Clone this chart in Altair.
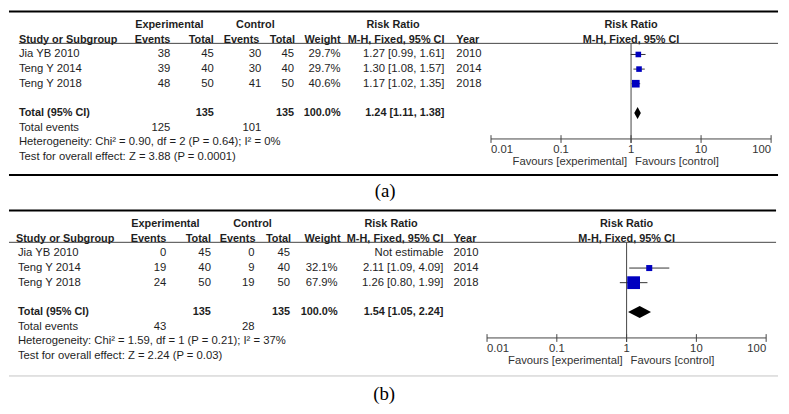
import altair as alt
import pandas as pd

# ------------------------------------------------------------------ data
studies = ["Jia YB 2010", "Teng Y 2014", "Teng Y 2018"]
years = [2010, 2014, 2018]

a_exp_events = [38, 39, 48]
a_exp_total = [45, 40, 50]
a_ctl_events = [30, 30, 41]
a_ctl_total = [45, 40, 50]
a_weight = [29.7, 29.7, 40.6]
a_rr = [1.27, 1.30, 1.17]
a_lo = [0.99, 1.08, 1.02]
a_hi = [1.61, 1.57, 1.35]
a_total_n = [135, 135]
a_total_events = [125, 101]
a_pooled = [1.24, 1.11, 1.38]
a_het = "Heterogeneity: Chi\u00b2 = 0.90, df = 2 (P = 0.64); I\u00b2 = 0%"
a_test = "Test for overall effect: Z = 3.88 (P = 0.0001)"

b_exp_events = [0, 19, 24]
b_exp_total = [45, 40, 50]
b_ctl_events = [0, 9, 19]
b_ctl_total = [45, 40, 50]
b_weight = [None, 32.1, 67.9]
b_rr = [None, 2.11, 1.26]
b_lo = [None, 1.09, 0.80]
b_hi = [None, 4.09, 1.99]
b_total_n = [135, 135]
b_total_events = [43, 28]
b_pooled = [1.54, 1.05, 2.24]
b_het = "Heterogeneity: Chi\u00b2 = 1.59, df = 1 (P = 0.21); I\u00b2 = 37%"
b_test = "Test for overall effect: Z = 2.24 (P = 0.03)"

axis_ticks = [0.01, 0.1, 1, 10, 100]
axis_labels = ["0.01", "0.1", "1", "10", "100"]

# ------------------------------------------------------------------ style
FONT = "Liberation Sans"
FS = 11.4      # regular text
FSB = 11       # bold text
TEXT = "#1e1e1e"
GREY = "#333333"
BLUE = "#0000C0"
W = 780

# row units: study rows are 0,1,2 ; total 4 ; total events 5 ; het 6 ; test 7
R = dict(top=-2.94, h1=-2, h2=-1, under=-0.76, axis=5.78, tick0=5.52, tick1=6.05,
         ticklab=6.57, fav=7.33, total=4, tev=5, het=6, test=7)

LAYOUT_A = dict(
    height=201, ydomain=[-3.04, 10.57], xrange=[487, 770],
    study=10, hstudy=10, ee=163, et=207, ce=255, ct=288, w=335, ci=440, year=452,
    h_ee=163, h_et=207, h_ce=253, h_ct=289, h_w=335, h_ci=440, h_year=452,
    exp=162, ctl=249, rr=388,
    top=[0, 777], under=[10, 777], bottom=[0, 777], bottom_color="#000000", bottom_w=2,
    bottom_row=8.25, caption=380, caption_row=9.37,
)
LAYOUT_B = dict(
    height=195, ydomain=[-3.04, 10.16], xrange=[483, 765],
    study=9, hstudy=7, ee=159, et=204, ce=248, ct=284, w=332, ci=439, year=449,
    h_ee=159, h_et=204, h_ce=249, h_ct=285, h_w=335, h_ci=439, h_year=449,
    exp=158, ctl=246, rr=386,
    top=[0, 775], under=[0, 775], bottom=[0, 777], bottom_color="#c4c4c4", bottom_w=1,
    bottom_row=8.38, caption=379, caption_row=9.6,
)


def fmt_ci(r, l, h):
    return "Not estimable" if r is None else f"{r:.2f} [{l:.2f}, {h:.2f}]"


def panel(ee, et, ce, ct, wt, rr, lo, hi, tot_n, tot_ev, pooled, het, test, label, L):
    H = L["height"]
    yscale = alt.Scale(domain=L["ydomain"], range=[0, H], nice=False, zero=False)
    xscale = alt.Scale(type="log", domain=[0.01, 100], range=L["xrange"], nice=False)

    def Y(f="row"):
        return alt.Y(f"{f}:Q", scale=yscale, axis=None)

    def X(f):
        return alt.X(f"{f}:Q", scale=xscale, axis=None)

    def txt(df, field, x, align, bold=False, color=TEXT, size=None, font=FONT):
        if size is None:
            size = FSB if bold else FS
        return alt.Chart(df).mark_text(
            align=align, baseline="middle", font=font, fontSize=size,
            fontWeight="bold" if bold else "normal", color=color,
        ).encode(x=alt.value(x), y=Y(), text=alt.Text(f"{field}:N"))

    def one(row, t):
        return pd.DataFrame({"row": [row], "t": [t]})

    def hline(row, x0, x1, color, sw):
        return alt.Chart(pd.DataFrame({"row": [row]})).mark_rule(
            color=color, strokeWidth=sw).encode(x=alt.value(x0), x2=alt.value(x1), y=Y())

    rows = pd.DataFrame({
        "row": [0, 1, 2],
        "study": studies,
        "ee": [str(v) for v in ee], "et": [str(v) for v in et],
        "ce": [str(v) for v in ce], "ct": [str(v) for v in ct],
        "w": ["" if v is None else f"{v:.1f}%" for v in wt],
        "ci": [fmt_ci(r, l, h) for r, l, h in zip(rr, lo, hi)],
        "year": [str(y) for y in years],
    })
    forest = pd.DataFrame([
        {"row": i, "rr": r, "lo": l, "hi": h, "weight": w}
        for i, (r, l, h, w) in enumerate(zip(rr, lo, hi, wt)) if r is not None
    ])

    layers = []
    # lines
    layers.append(hline(R["top"], *L["top"], "#000000", 2))
    layers.append(hline(R["under"], *L["under"], "#444444", 1))
    layers.append(hline(L["bottom_row"], *L["bottom"], L["bottom_color"], L["bottom_w"]))

    # header row 1
    layers.append(txt(one(R["h1"], "Experimental"), "t", L["exp"], "center", True))
    layers.append(txt(one(R["h1"], "Control"), "t", L["ctl"], "center", True))
    layers.append(txt(one(R["h1"], "Risk Ratio"), "t", L["rr"], "center", True))
    # header row 2
    for key, t, al in [("hstudy", "Study or Subgroup", "left"), ("h_ee", "Events", "right"),
                       ("h_et", "Total", "right"), ("h_ce", "Events", "right"),
                       ("h_ct", "Total", "right"), ("h_w", "Weight", "right"),
                       ("h_ci", "M-H, Fixed, 95% CI", "right"), ("h_year", "Year", "left")]:
        layers.append(txt(one(R["h2"], t), "t", L[key], al, True))

    # forest headers centred on the line of no effect
    fh = pd.DataFrame({"v": [1, 1], "row": [R["h1"], R["h2"]],
                       "t": ["Risk Ratio", "M-H, Fixed, 95% CI"]})
    layers.append(alt.Chart(fh).mark_text(
        align="center", baseline="middle", font=FONT, fontSize=FSB, fontWeight="bold", color=TEXT
    ).encode(x=X("v"), y=Y(), text="t:N"))

    # study rows
    for key, al in [("study", "left"), ("ee", "right"), ("et", "right"), ("ce", "right"),
                    ("ct", "right"), ("w", "right"), ("ci", "right"), ("year", "left")]:
        layers.append(txt(rows, key, L[key], al))

    # total row
    layers.append(txt(one(R["total"], "Total (95% CI)"), "t", L["study"], "left", True))
    layers.append(txt(one(R["total"], str(tot_n[0])), "t", L["et"], "right", True))
    layers.append(txt(one(R["total"], str(tot_n[1])), "t", L["ct"], "right", True))
    layers.append(txt(one(R["total"], "100.0%"), "t", L["w"], "right", True))
    layers.append(txt(one(R["total"], fmt_ci(*pooled)), "t", L["ci"], "right", True))
    # total events
    layers.append(txt(one(R["tev"], "Total events"), "t", L["study"], "left"))
    layers.append(txt(one(R["tev"], str(tot_ev[0])), "t", L["ee"], "right"))
    layers.append(txt(one(R["tev"], str(tot_ev[1])), "t", L["ce"], "right"))
    layers.append(txt(one(R["het"], het), "t", L["study"], "left"))
    layers.append(txt(one(R["test"], test), "t", L["study"], "left"))

    # line of no effect
    layers.append(alt.Chart(pd.DataFrame({"v": [1], "y0": [R["under"]], "y1": [R["tick1"]]}))
                  .mark_rule(color="#444444", strokeWidth=1)
                  .encode(x=X("v"), y=Y("y0"), y2="y1:Q"))
    # axis line + ticks
    layers.append(alt.Chart(pd.DataFrame({"a": [axis_ticks[0]], "b": [axis_ticks[-1]], "row": [R["axis"]]}))
                  .mark_rule(color="#444444", strokeWidth=1)
                  .encode(x=X("a"), x2="b:Q", y=Y()))
    ticks = pd.DataFrame({"v": axis_ticks, "lab": axis_labels,
                          "y0": R["tick0"], "y1": R["tick1"], "row": R["ticklab"],
                          "i": list(range(len(axis_ticks)))})
    layers.append(alt.Chart(ticks).mark_rule(color="#444444", strokeWidth=1)
                  .encode(x=X("v"), y=Y("y0"), y2="y1:Q"))
    n = len(axis_ticks) - 1
    for cond, al in [("datum.i == 0", "left"), (f"datum.i > 0 && datum.i < {n}", "center"),
                     (f"datum.i == {n}", "right")]:
        layers.append(alt.Chart(ticks).transform_filter(cond).mark_text(
            align=al, baseline="middle", font=FONT, fontSize=FS, color=GREY
        ).encode(x=X("v"), y=Y(), text="lab:N"))
    # favours
    layers.append(alt.Chart(pd.DataFrame({"v": [1], "row": [R["fav"]], "t": ["Favours [experimental]"]}))
                  .mark_text(align="right", dx=-4, baseline="middle", font=FONT, fontSize=FS, color=GREY)
                  .encode(x=X("v"), y=Y(), text="t:N"))
    layers.append(alt.Chart(pd.DataFrame({"v": [1], "row": [R["fav"]], "t": ["Favours [control]"]}))
                  .mark_text(align="left", dx=4, baseline="middle", font=FONT, fontSize=FS, color=GREY)
                  .encode(x=X("v"), y=Y(), text="t:N"))

    # CIs and squares
    layers.append(alt.Chart(forest).mark_rule(color="#333333", strokeWidth=1)
                  .encode(x=X("lo"), x2="hi:Q", y=Y()))
    layers.append(alt.Chart(forest).mark_square(filled=True, color=BLUE, opacity=1)
                  .encode(x=X("rr"), y=Y(),
                          size=alt.Size("weight:Q", legend=None,
                                        scale=alt.Scale(type="pow", exponent=2,
                                                        domain=[0, 100], range=[0, 361]))))
    # pooled diamond
    est, plo, phi = pooled
    dia = pd.DataFrame({"x": [plo, est, phi], "k": [0, 1, 0], "row": [R["total"]] * 3})
    layers.append(alt.Chart(dia).transform_calculate(
        y0="datum.row - 0.41 * datum.k", y1="datum.row + 0.41 * datum.k"
    ).mark_area(orient="vertical", color="#000000", opacity=1)
        .encode(x=X("x"), y=Y("y0"), y2="y1:Q"))

    # caption
    layers.append(txt(one(L["caption_row"], label), "t", L["caption"], "center",
                      color="#000000", size=19, font="Liberation Serif"))

    return alt.layer(*layers).properties(width=W, height=H)


pa = panel(a_exp_events, a_exp_total, a_ctl_events, a_ctl_total, a_weight, a_rr, a_lo, a_hi,
           a_total_n, a_total_events, a_pooled, a_het, a_test, "(a)", LAYOUT_A)
pb = panel(b_exp_events, b_exp_total, b_ctl_events, b_ctl_total, b_weight, b_rr, b_lo, b_hi,
           b_total_n, b_total_events, b_pooled, b_het, b_test, "(b)", LAYOUT_B)

chart = alt.vconcat(pa, pb, spacing=0).properties(padding=0, background="white") \
    .configure_view(stroke=None)

chart.save("out.html", embed_options={"renderer": "svg", "actions": False})
